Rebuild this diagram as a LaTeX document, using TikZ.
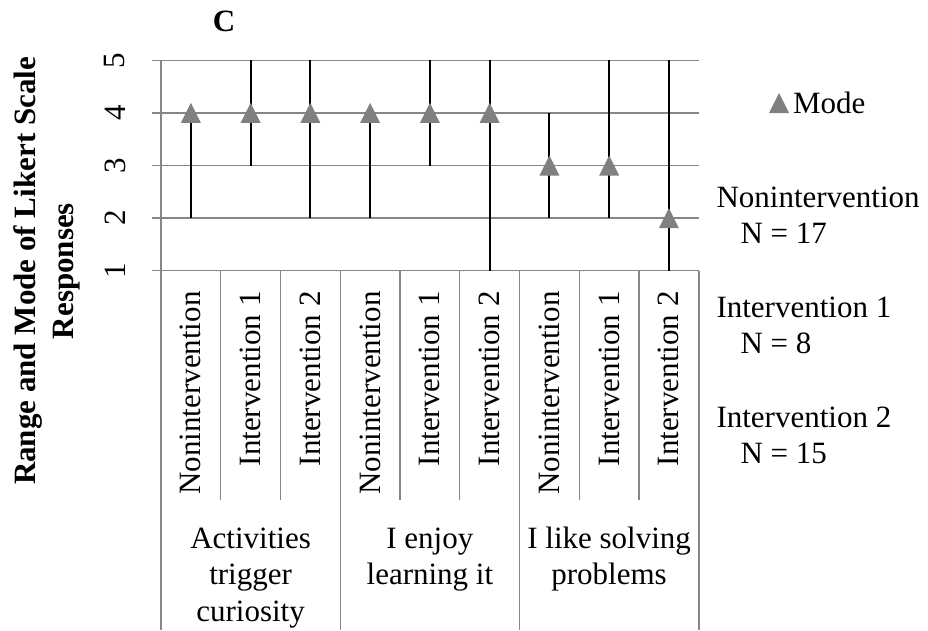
\documentclass[tikz,border=0pt]{standalone}
\usepackage{fontspec}
\setmainfont{Liberation Serif}
\definecolor{gridgray}{RGB}{134,134,134}
\definecolor{markgray}{RGB}{128,128,128}
\begin{document}
\begin{tikzpicture}[x=1pt,y=-1pt,
  gridline/.style={draw=gridgray, line width=1.3pt},
  rangeline/.style={draw=black, line width=1.8pt},
  lbl/.style={font=\fontsize{31}{36.5}\selectfont, inner sep=0pt, outer sep=0pt},
  leglbl/.style={font=\fontsize{31}{36}\selectfont, inner sep=0pt, outer sep=0pt},
  boldlbl/.style={font=\fontsize{31}{38}\selectfont\bfseries, inner sep=0pt, outer sep=0pt},
  modemark/.style={fill=markgray}]
\useasboundingbox (0,0) rectangle (928,630);
% horizontal gridlines and value labels
\foreach \v in {1,...,5}{
  \pgfmathsetmacro\yy{270.7-(\v-1)*52.6}
  \draw[gridline] (152,\yy) -- (699,\yy);
  \node[lbl,rotate=90] (tick\v) at (115,\yy) {\v};
}
% axis and category dividers
\draw[gridline] (161,60.3) -- (161,630);
\draw[gridline] (699,270.7) -- (699,630);
\foreach \k in {1,2,4,5,7,8}{
  \draw[gridline] ({161+59.75*\k},270.7) -- ({161+59.75*\k},500);
}
\foreach \k in {3,6}{
  \draw[gridline] ({161+59.75*\k},270.7) -- ({161+59.75*\k},630);
}
% ranges and modes
\foreach \k/\lo/\hi/\m in {0/2/4/4, 1/3/5/4, 2/2/5/4, 3/2/4/4, 4/3/5/4, 5/1/5/4, 6/2/4/3, 7/2/5/3, 8/1/5/2}{
  \pgfmathsetmacro\xx{161+59.75*(\k+0.5)}
  \pgfmathsetmacro\ylo{270.7-(\lo-1)*52.6}
  \pgfmathsetmacro\yhi{270.7-(\hi-1)*52.6}
  \pgfmathsetmacro\ym{270.7-(\m-1)*52.6}
  \draw[rangeline] (\xx,\ylo) -- (\xx,\yhi);
  \fill[modemark] (\xx-10,\ym+10) -- (\xx+10,\ym+10) -- (\xx,\ym-10) -- cycle;
}
% category labels
\foreach \k/\t in {0/Nonintervention, 1/Intervention 1, 2/Intervention 2,
                   3/Nonintervention, 4/Intervention 1, 5/Intervention 2,
                   6/Nonintervention, 7/Intervention 1, 8/Intervention 2}{
  \node[lbl,rotate=90,anchor=east] (cat\k) at ({161+59.75*(\k+0.5)},291.5) {\t};
}
% group labels (base anchor = baseline of last line)
\node[lbl,align=center,anchor=base] (grpA) at (250.6,621) {Activities\\trigger\\curiosity};
\node[lbl,align=center,anchor=base] (grpB) at (429.9,584.5) {I enjoy\\learning it};
\node[lbl,align=center,anchor=base] (grpC) at (609.1,584.5) {I like solving\\problems};
% titles
\node[boldlbl,anchor=base] (title) at (224,31.7) {C};
\node[boldlbl,rotate=90,align=center,anchor=base] (ytitle) at (73,271) {Range and Mode of Likert Scale\\Responses};
% legend
\fill[modemark] (769,113) -- (789,113) -- (779,93) -- cycle;
\node[leglbl,anchor=base west] (legmode) at (793,113) {Mode};
\node[leglbl,anchor=base west,align=left] (legA) at (716.5,243) {Nonintervention\\\hspace*{24pt}N = 17};
\node[leglbl,anchor=base west,align=left] (legB) at (716.5,353) {Intervention 1\\\hspace*{24pt}N = 8};
\node[leglbl,anchor=base west,align=left] (legC) at (716.5,463) {Intervention 2\\\hspace*{24pt}N = 15};
\end{tikzpicture}
\end{document}
